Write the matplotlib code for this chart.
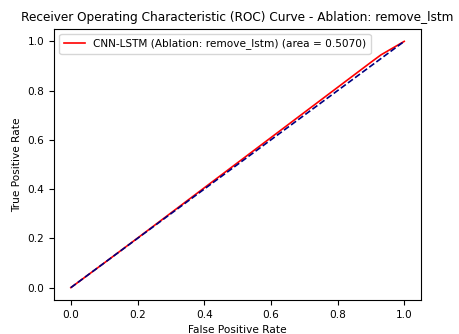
import matplotlib
matplotlib.use("Agg")
import matplotlib.pyplot as plt

# ROC points
fpr = [0.0, 0.1, 0.2, 0.3, 0.4, 0.5, 0.6, 0.7, 0.8, 0.9, 0.93, 1.0]
tpr = [0.0, 0.1, 0.201, 0.303, 0.405, 0.507, 0.609, 0.711, 0.813, 0.915, 0.945, 1.0]
roc_auc = 0.5070
ablation = "remove_lstm"

plt.rcParams['font.size'] = 7.6

fig = plt.figure(figsize=(4.59, 3.34), dpi=100)
ax = fig.add_axes([0.118, 0.102, 0.799, 0.811])
ax.plot(fpr, tpr, color='red', lw=1.2,
        label='CNN-LSTM (Ablation: %s) (area = %0.4f)' % (ablation, roc_auc))
ax.plot([0, 1], [0, 1], color='navy', lw=1.2, linestyle='--')
ax.set_xlabel('False Positive Rate')
ax.set_ylabel('True Positive Rate')
ax.set_title('Receiver Operating Characteristic (ROC) Curve - Ablation: %s' % ablation,
             fontsize=8.75)
ax.legend(loc='upper left')

fig.savefig('out.png', dpi=100)
